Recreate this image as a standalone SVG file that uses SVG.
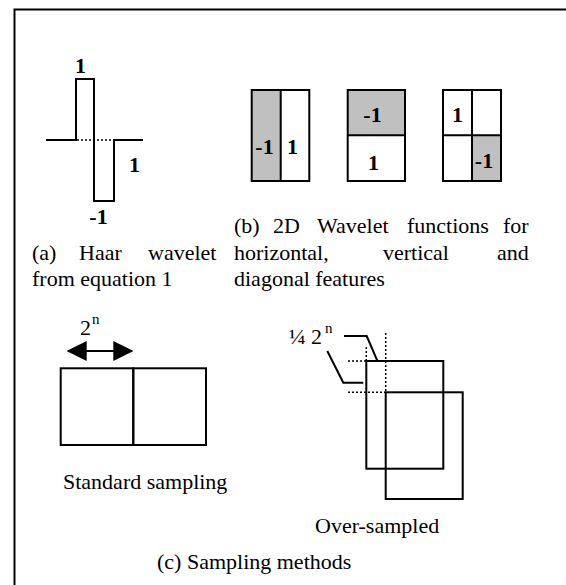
<svg xmlns="http://www.w3.org/2000/svg" width="566" height="585" viewBox="0 0 566 585">
<defs>
<style>
.t{font-family:"Liberation Serif","Times New Roman",serif;font-size:22px;fill:#000}
.sup{font-family:"Liberation Serif","Times New Roman",serif;font-size:15px;fill:#000}
.b{font-family:"Liberation Serif","Times New Roman",serif;font-size:22px;font-weight:bold;fill:#000;text-anchor:middle}
.ln{fill:none;stroke:#000;stroke-width:2}
.dot{fill:none;stroke:#000;stroke-width:1.5;stroke-dasharray:2,2}
.g{fill:#c0c0c0;stroke:none}
</style>
<marker id="ah" markerUnits="userSpaceOnUse" markerWidth="20" markerHeight="20" viewBox="0 0 20 20" refX="12" refY="10" orient="auto-start-reverse">
<path d="M0,0 L20,10 L0,20 Z" fill="#000"/>
</marker>
</defs>
<rect x="0" y="0" width="566" height="585" fill="#fff"/>
<rect x="14.5" y="9.5" width="600" height="600" class="ln"/>

<g id="haar">
<path class="ln" d="M46,140 H76 V79 H94 V201 H114 V140 H143"/>
<path class="dot" d="M77,140 H113"/>
<text class="b" x="80.5" y="73">1</text>
<text class="b" x="134.5" y="172">1</text>
<text class="b" x="98.5" y="224">-1</text>
</g>

<g id="caption-a">
<text class="t" y="259.5"><tspan x="32">(a)</tspan><tspan x="79">Haar</tspan><tspan x="148">wavelet</tspan></text>
<text class="t" x="32" y="285.5">from equation 1</text>
</g>

<g id="wavelet-horizontal">
<rect class="g" x="251.7" y="90" width="29" height="91"/>
<rect class="ln" x="251.7" y="90" width="57.6" height="91"/>
<line class="ln" x1="280.7" y1="90" x2="280.7" y2="181"/>
<text class="b" x="264.5" y="153.5">-1</text>
<text class="b" x="292.5" y="153.5">1</text>
</g>

<g id="wavelet-vertical">
<rect class="g" x="347.7" y="90" width="57.3" height="45.3"/>
<rect class="ln" x="347.7" y="90" width="57.3" height="91"/>
<line class="ln" x1="347.7" y1="135.3" x2="405" y2="135.3"/>
<text class="b" x="372.5" y="122">-1</text>
<text class="b" x="373.5" y="169.5">1</text>
</g>

<g id="wavelet-diagonal">
<rect class="g" x="472" y="135.3" width="29" height="45.7"/>
<rect class="ln" x="443" y="90" width="58" height="91"/>
<line class="ln" x1="472" y1="90" x2="472" y2="181"/>
<line class="ln" x1="443" y1="135.3" x2="501" y2="135.3"/>
<text class="b" x="457.5" y="121.5">1</text>
<text class="b" x="484" y="168">-1</text>
</g>

<g id="caption-b">
<text class="t" y="233"><tspan x="234">(b)</tspan><tspan x="273">2D</tspan><tspan x="317">Wavelet</tspan><tspan x="407">functions</tspan><tspan x="503">for</tspan></text>
<text class="t" y="259.5"><tspan x="234">horizontal,</tspan><tspan x="383">vertical</tspan><tspan x="497">and</tspan></text>
<text class="t" x="234" y="285.5">diagonal features</text>
</g>

<g id="standard-sampling">
<rect class="ln" x="60.7" y="368.3" width="72.6" height="76.7"/>
<rect class="ln" x="133.3" y="368.3" width="72.7" height="76.7"/>
<text class="t" x="80" y="335">2</text>
<text class="sup" x="92" y="324">n</text>
<text class="t" x="63" y="489">Standard sampling</text>
</g>

<g id="over-sampled">
<rect class="ln" x="366.3" y="361" width="77" height="107.7"/>
<rect class="ln" x="385.7" y="392.3" width="77" height="106.7"/>
<text class="t" x="289" y="344">¼ 2</text>
<text class="sup" x="325" y="333">n</text>
<text class="t" x="315" y="533">Over-sampled</text>
</g>

<g id="connectors">
<line class="ln" x1="74.7" y1="351" x2="125.3" y2="351" marker-start="url(#ah)" marker-end="url(#ah)"/>
<path class="dot" d="M385.7,333 V392"/>
<path class="dot" d="M366.3,347 V361"/>
<path class="dot" d="M348,361 H366"/>
<path class="dot" d="M348,392.3 H385.5"/>
<polyline class="ln" points="344,336 366.7,336 377.7,361.7"/>
<polyline class="ln" points="327.3,351 343.3,382.7 363.3,382.7"/>
</g>

<text class="t" x="157" y="569">(c) Sampling methods</text>
</svg>
